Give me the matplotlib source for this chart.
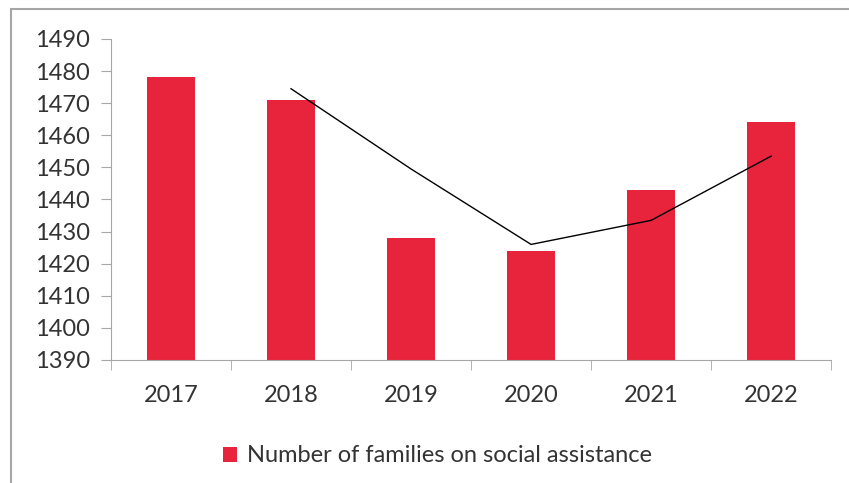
import matplotlib.pyplot as plt
from matplotlib.patches import Rectangle

years = ['2017', '2018', '2019', '2020', '2021', '2022']
families = [1478, 1471, 1428, 1424, 1443, 1464]
# trend line as drawn in the original (starts at 2018)
trend_years = ['2018', '2019', '2020', '2021', '2022']
trend = [1474.5, 1449.5, 1426, 1433.5, 1453.5]

plt.rcParams['font.family'] = ['Lato', 'DejaVu Sans']

fig = plt.figure(figsize=(8.49, 4.83), dpi=100)
ax = fig.add_axes([0.1307, 0.2547, 0.8483, 0.6646])

# outer frame (top and left visible)
fig.patches.append(Rectangle((11 / 849, -0.1), 1.2, 1.1 - 9 / 483,
                             transform=fig.transFigure, fill=False,
                             edgecolor='#a6a6a6', linewidth=1.5))

x = list(range(len(years)))
ax.bar(x, families, width=0.4, color='#e8243c', zorder=2,
       label='Number of families on social assistance')
tx = [years.index(y) for y in trend_years]
ax.plot(tx, trend, color='black', linewidth=1, zorder=3)

ax.set_ylim(1390, 1490)
ax.set_yticks(range(1390, 1491, 10))
ax.set_xlim(-0.5, len(years) - 0.5)
ax.set_xticks(x)
ax.set_xticklabels(years)
ax.set_xticks([i - 0.5 for i in range(len(years) + 1)], minor=True)

for s in ['top', 'right']:
    ax.spines[s].set_visible(False)
for s in ['left', 'bottom']:
    ax.spines[s].set_color('#a6a6a6')
ax.tick_params(axis='y', direction='out', length=7, color='#a6a6a6',
               labelsize=17, labelcolor='#333333', pad=8)
ax.tick_params(axis='x', which='major', length=0, labelsize=17,
               labelcolor='#333333', pad=18)
ax.tick_params(axis='x', which='minor', length=7, color='#a6a6a6')

ax.legend(loc='upper center', bbox_to_anchor=(0.453, -0.2), frameon=False,
          fontsize=17, handlelength=0.6, handleheight=0.6, handletextpad=0.4,
          labelcolor='#333333')

fig.savefig('out.png', dpi=100)
